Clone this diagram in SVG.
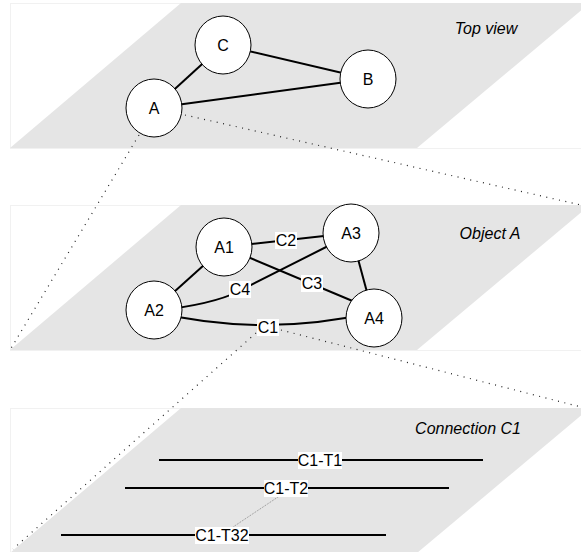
<svg xmlns="http://www.w3.org/2000/svg" width="581" height="552" viewBox="0 0 581 552">
<style>
.plane{fill:#e5e5e5;stroke:none}
.frame{fill:none;stroke:#f1f1f1;stroke-width:1}
.edge{fill:none;stroke:#000;stroke-width:2}
.dot{fill:none;stroke:#222;stroke-width:1.2;stroke-dasharray:1 5.5}
.fine{fill:none;stroke:#777;stroke-width:0.8;stroke-dasharray:1 1}
.node{fill:#fff;stroke:#000;stroke-width:1}
.t{font-family:"Liberation Sans",Arial,sans-serif;font-size:16px;fill:#000;text-anchor:middle}
.title{font-family:"Liberation Sans",Arial,sans-serif;font-size:16px;font-style:italic;fill:#000;text-anchor:middle}
.lb{fill:#fff;stroke:none}
</style>
<g id="planes">
<rect class="frame" x="10.5" y="3.5" width="575" height="145"/>
<polygon class="plane" points="10,148 181,3 590,3 417,148"/>
<rect class="frame" x="10.5" y="205.5" width="575" height="145"/>
<polygon class="plane" points="10,350 181,205 590,205 417,350"/>
<rect class="frame" x="10.5" y="408.5" width="575" height="145"/>
<polygon class="plane" points="10,553 181,408 590,408 417,553"/>
</g>
<g id="titles">
<text class="title" x="486" y="34">Top view</text>
<text class="title" x="490" y="239">Object A</text>
<text class="title" x="468" y="434">Connection C1</text>
</g>
<g id="connectors">
<line class="edge" x1="154" y1="108" x2="223" y2="45"/>
<line class="edge" x1="223" y1="45" x2="368" y2="79"/>
<line class="edge" x1="154" y1="108" x2="368" y2="79"/>
<line class="dot" x1="139" y1="135" x2="10" y2="350"/>
<line class="dot" x1="185" y1="115" x2="581" y2="205"/>
<line class="edge" x1="224" y1="247" x2="351" y2="233"/>
<line class="edge" x1="224" y1="247" x2="154" y2="310"/>
<line class="edge" x1="224" y1="247" x2="374" y2="310"/>
<path class="edge" d="M170,309 Q222,302 245,288 L340,240"/>
<line class="edge" x1="351" y1="233" x2="374" y2="318"/>
<path class="edge" d="M154,312 Q265,338 374,312"/>
<line class="dot" x1="256" y1="333" x2="13" y2="549"/>
<line class="dot" x1="281" y1="330" x2="581" y2="407"/>
<line class="edge" x1="159" y1="460" x2="483" y2="460"/>
<line class="edge" x1="125" y1="488" x2="449" y2="488"/>
<line class="edge" x1="61" y1="535" x2="386" y2="535"/>
<line class="fine" x1="281" y1="495" x2="233" y2="527"/>
</g>
<g id="edge-labels">
<rect class="lb" x="275" y="232" width="22" height="17"/><text class="t" x="286" y="246">C2</text>
<rect class="lb" x="301" y="275" width="22" height="17"/><text class="t" x="312" y="289">C3</text>
<rect class="lb" x="229" y="281" width="22" height="17"/><text class="t" x="240" y="295">C4</text>
<rect class="lb" x="257" y="319" width="22" height="17"/><text class="t" x="268" y="333">C1</text>
<rect class="lb" x="298" y="452" width="44" height="17"/><text class="t" x="320" y="466">C1-T1</text>
<rect class="lb" x="264" y="480" width="44" height="17"/><text class="t" x="286" y="494">C1-T2</text>
<rect class="lb" x="195" y="527" width="54" height="17"/><text class="t" x="222" y="541">C1-T32</text>
</g>
<g id="node-C"><ellipse class="node" cx="223" cy="45" rx="28" ry="29"/><text class="t" x="223" y="51">C</text></g>
<g id="node-B"><ellipse class="node" cx="368" cy="79" rx="28" ry="29"/><text class="t" x="368" y="85">B</text></g>
<g id="node-A"><ellipse class="node" cx="154" cy="108" rx="28" ry="29"/><text class="t" x="154" y="114">A</text></g>
<g id="node-A1"><ellipse class="node" cx="224" cy="247" rx="28" ry="29"/><text class="t" x="224" y="253">A1</text></g>
<g id="node-A3"><ellipse class="node" cx="351" cy="233" rx="28" ry="29"/><text class="t" x="351" y="239">A3</text></g>
<g id="node-A2"><ellipse class="node" cx="154" cy="310" rx="28" ry="29"/><text class="t" x="154" y="316">A2</text></g>
<g id="node-A4"><ellipse class="node" cx="374" cy="318" rx="28" ry="29"/><text class="t" x="374" y="324">A4</text></g>
</svg>
